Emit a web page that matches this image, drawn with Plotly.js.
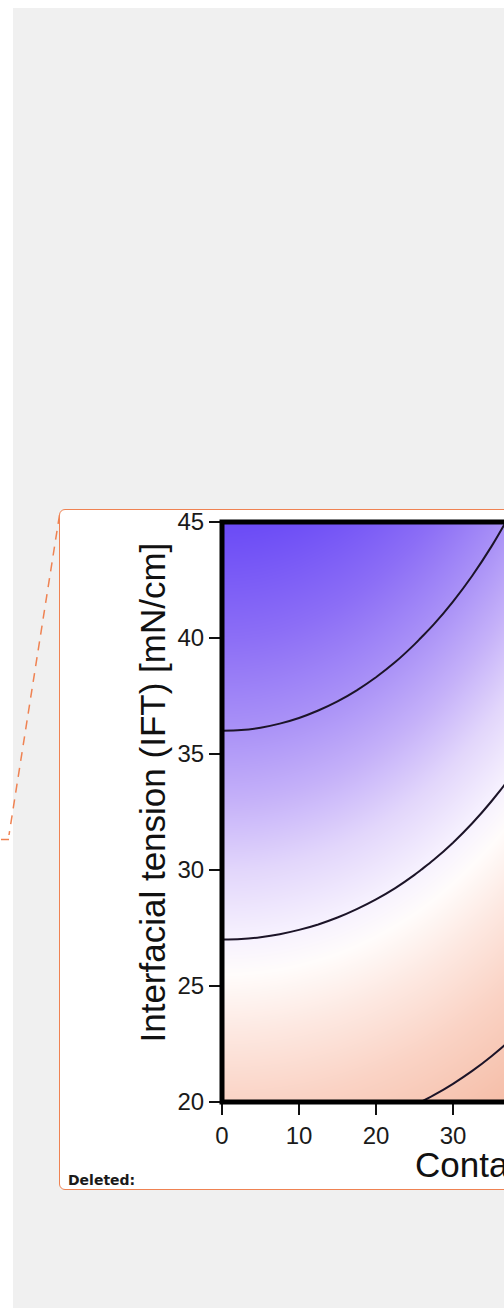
<!DOCTYPE html>
<html>
<head>
<meta charset="utf-8">
<script src="https://cdn.plot.ly/plotly-3.0.1.min.js"></script>
<style>
  html, body { margin:0; padding:0; background:#ffffff; overflow:hidden; width:504px; height:1308px; }
  #gray { position:absolute; left:13px; top:8px; width:700px; height:1400px; background:#f0f0f0; }
  #balloon { position:absolute; left:59px; top:509px; width:900px; height:681px; background:#ffffff;
             border:1.5px solid #ef8252; border-radius:6px; box-sizing:border-box; }
  #deleted { position:absolute; left:68px; top:1173px; font-family:"DejaVu Sans", Verdana, sans-serif;
             font-weight:bold; font-size:14px; line-height:14px; color:#1a1a1a; }
  #conn { position:absolute; left:0; top:0; }
  #chart { position:absolute; left:60px; top:490px; width:798px; height:698px; }
</style>
</head>
<body>
<div id="gray"></div>
<svg id="conn" width="70" height="850">
  <path d="M59.5,515 L9,835" stroke="#ef8252" stroke-width="1.5" fill="none" stroke-dasharray="9,7"/>
  <path d="M1,839.5 L9,839.5" stroke="#ef8252" stroke-width="1.5" fill="none"/>
</svg>
<div id="balloon"></div>
<div id="chart"></div>
<div id="deleted">Deleted:</div>
<script>
// Contact angle (deg) grid columns
var contactAngle = [0, 2.5, 5, 7.5, 10, 12.5, 15, 17.5, 20, 22.5, 25, 27.5, 30, 32.5, 35, 37.5, 40];
// Interfacial tension (mN/cm) grid rows
var ift = [20, 25, 30, 35, 40, 45];
// Field values (one row per IFT value)
var zIft20 = [20.00, 19.98, 19.92, 19.83, 19.70, 19.53, 19.32, 19.07, 18.79, 18.48, 18.13, 17.74, 17.32, 16.87, 16.38, 15.87, 15.32];
var zIft25 = [25.00, 24.98, 24.90, 24.79, 24.62, 24.41, 24.15, 23.84, 23.49, 23.10, 22.66, 22.18, 21.65, 21.08, 20.48, 19.83, 19.15];
var zIft30 = [30.00, 29.97, 29.89, 29.74, 29.54, 29.29, 28.98, 28.61, 28.19, 27.72, 27.19, 26.61, 25.98, 25.30, 24.57, 23.80, 22.98];
var zIft35 = [35.00, 34.97, 34.87, 34.70, 34.47, 34.17, 33.81, 33.38, 32.89, 32.34, 31.72, 31.05, 30.31, 29.52, 28.67, 27.77, 26.81];
var zIft40 = [40.00, 39.96, 39.85, 39.66, 39.39, 39.05, 38.64, 38.15, 37.59, 36.96, 36.25, 35.48, 34.64, 33.74, 32.77, 31.73, 30.64];
var zIft45 = [45.00, 44.96, 44.83, 44.61, 44.32, 43.93, 43.47, 42.92, 42.29, 41.57, 40.78, 39.92, 38.97, 37.95, 36.86, 35.70, 34.47];
// Contour levels
var contourStart = 18, contourEnd = 36, contourStep = 9;
// Tick values
var xTicks = [0, 10, 20, 30, 40, 50, 60, 70, 80];
var yTicks = [20, 25, 30, 35, 40, 45];
var xTitle = "Contact angle [°]";
var yTitle = "Interfacial tension (IFT) [mN/cm]";

var zGrid = [zIft20, zIft25, zIft30, zIft35, zIft40, zIft45];

var colorscale = [
  [0.0,    'rgb(244,184,160)'],
  [0.1667, 'rgb(250,211,197)'],
  [0.2667, 'rgb(253,232,225)'],
  [0.35,   'rgb(255,252,251)'],
  [0.4,    'rgb(247,242,254)'],
  [0.5,    'rgb(226,214,251)'],
  [0.6,    'rgb(197,177,249)'],
  [0.7,    'rgb(170,146,247)'],
  [0.8333, 'rgb(140,110,246)'],
  [1.0,    'rgb(106,74,246)']
];

var trace = {
  type: 'contour',
  x: contactAngle,
  y: ift,
  z: zGrid,
  zmin: 15, zmax: 45, zauto: false,
  colorscale: colorscale,
  showscale: false,
  contours: { coloring: 'heatmap', start: contourStart, end: contourEnd, size: contourStep, showlabels: false },
  line: { color: '#1c1428', width: 2, smoothing: 1 },
  hoverinfo: 'skip'
};

var tickFont = { family: 'Liberation Sans, Arial, Helvetica, sans-serif', size: 24, color: '#1a1a1a' };
var titleFont = { family: 'Liberation Sans, Arial, Helvetica, sans-serif', size: 35, color: '#111111' };

var layout = {
  width: 798, height: 698,
  margin: { l: 162, r: 20, t: 32, b: 86 },
  paper_bgcolor: 'rgba(0,0,0,0)',
  plot_bgcolor: '#ffffff',
  showlegend: false,
  xaxis: {
    range: [0, 80], tickvals: xTicks, ticktext: xTicks.map(String),
    showgrid: false, zeroline: false, showline: false,
    ticks: 'outside', ticklen: 12, tickwidth: 1.6, tickcolor: '#111',
    tickfont: tickFont, ticklabeloverflow: 'allow'
  },
  yaxis: {
    range: [20, 45], tickvals: yTicks, ticktext: yTicks.map(String),
    showgrid: false, zeroline: false, showline: false,
    ticks: 'outside', ticklen: 12, tickwidth: 1.6, tickcolor: '#111',
    tickfont: tickFont, ticklabeloverflow: 'allow'
  },
  shapes: [{
    type: 'rect', xref: 'paper', yref: 'paper', x0: 0, x1: 1, y0: 0, y1: 1,
    line: { color: '#000000', width: 5 }, layer: 'above'
  }],
  annotations: [
    { text: xTitle, xref: 'paper', yref: 'paper', x: 0.3101, y: -0.108, xanchor: 'left', yanchor: 'middle',
      showarrow: false, font: titleFont },
    { text: yTitle, xref: 'paper', yref: 'paper', x: -0.1136, y: 0.5336, xanchor: 'center', yanchor: 'middle',
      textangle: -90, showarrow: false, font: titleFont }
  ]
};

Plotly.newPlot('chart', [trace], layout, { staticPlot: true, displayModeBar: false });
</script>
</body>
</html>
